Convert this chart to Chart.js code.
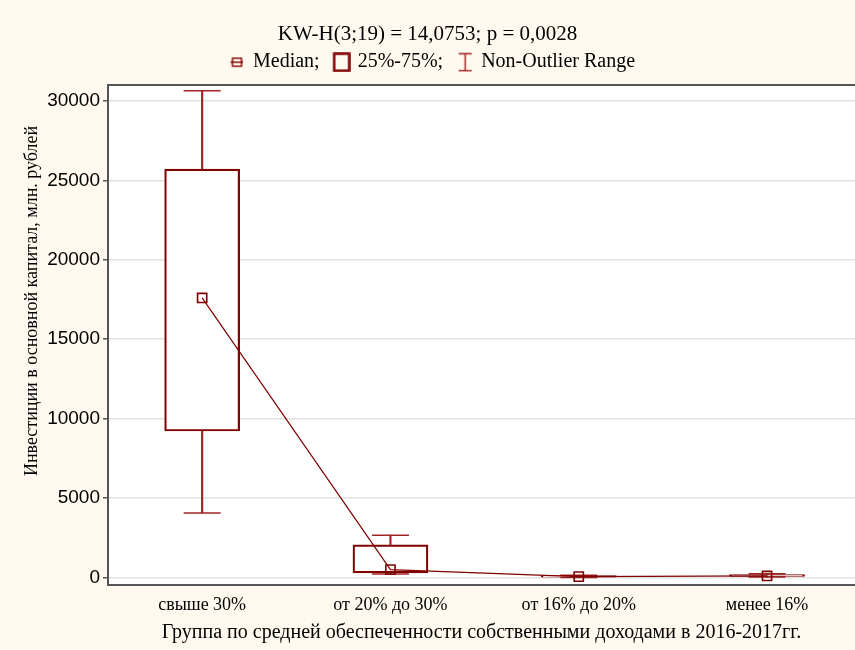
<!DOCTYPE html>
<html>
<head>
<meta charset="utf-8">
<script src="https://cdn.jsdelivr.net/npm/chart.js@4"></script>
<style>
  html, body { margin: 0; padding: 0; background: #fff9ef; }
  #wrap { width: 855px; height: 650px; position: relative; }
</style>
</head>
<body>
<div id="wrap"><canvas id="myChart"></canvas></div>
<script>
// Data
const categories = ['свыше 30%', 'от 20% до 30%', 'от 16% до 20%', 'менее 16%'];
const whiskerMin = [4060, 220, 0, 20];
const q1 = [9220, 283, 15, 60];
const medians = [17600, 490, 50, 90];
const q3 = [25720, 2046, 110, 180];
const whiskerMax = [30650, 2657, 140, 230];
const yTicks = [0, 5000, 10000, 15000, 20000, 25000, 30000];

const titleText = 'KW-H(3;19) = 14,0753; p = 0,0028';
const legendNames = ['Median;', '25%-75%;', 'Non-Outlier Range'];
const yTitle = 'Инвестиции в основной капитал, млн. рублей';
const xTitle = 'Группа по средней обеспеченности собственными доходами в 2016-2017гг.';

const boxColor = '#800000';
const whiskerColor = '#a02424';
const serif = 'Liberation Serif, Times New Roman, serif';
const sans = 'Liberation Sans, Arial, sans-serif';

// small icons for the legend (drawn shifted right inside their canvas)
const iconShift = 11;
function makeIcon(w, h, draw) {
    const c = document.createElement('canvas');
    c.width = w + iconShift;
    c.height = h;
    const g = c.getContext('2d');
    g.translate(iconShift, 0);
    draw(g);
    return c;
}
const medianIcon = makeIcon(13, 12, g => {
    g.strokeStyle = boxColor;
    g.lineWidth = 1.4;
    g.strokeRect(2, 2, 9, 8);
    g.beginPath();
    g.moveTo(0, 6);
    g.lineTo(13, 6);
    g.stroke();
});
const boxIcon = makeIcon(18, 20, g => {
    g.strokeStyle = boxColor;
    g.lineWidth = 2.5;
    g.strokeRect(1.5, 1.5, 15, 17);
});
const whiskerIcon = makeIcon(15, 20, g => {
    g.strokeStyle = whiskerColor;
    g.lineWidth = 1.5;
    g.beginPath();
    g.moveTo(1, 1.5); g.lineTo(14, 1.5);
    g.moveTo(7.5, 1.5); g.lineTo(7.5, 18.5);
    g.moveTo(1, 18.5); g.lineTo(14, 18.5);
    g.stroke();
});
const legendIcons = [medianIcon, boxIcon, whiskerIcon];

const plotBackground = {
    id: 'plotBackground',
    beforeDraw(chart) {
        const {ctx, chartArea} = chart;
        ctx.save();
        ctx.fillStyle = '#fff9ef';
        ctx.fillRect(0, 0, chart.width, chart.height);
        ctx.fillStyle = '#ffffff';
        ctx.fillRect(chartArea.left, chartArea.top, chartArea.right - chartArea.left, chartArea.bottom - chartArea.top);
        ctx.restore();
    }
};

// y axis title, placed a bit above the middle as in the original
const yAxisTitle = {
    id: 'yAxisTitle',
    afterDraw(chart) {
        const ctx = chart.ctx;
        ctx.save();
        ctx.translate(32, 301);
        ctx.rotate(-Math.PI / 2);
        ctx.font = '18px ' + serif;
        ctx.fillStyle = '#000';
        ctx.textAlign = 'center';
        ctx.textBaseline = 'middle';
        ctx.fillText(yTitle, 0, 0);
        ctx.restore();
    }
};

const xMin = -0.5;
const xMax = 3.467;

const noSidePadding = s => { s.paddingLeft = 0; s.paddingRight = 0; };

const ctx = document.getElementById('myChart').getContext('2d');
new Chart(ctx, {
    type: 'bar',
    data: {
        datasets: [
            {
                type: 'line',
                data: categories.map((c, i) => ({x: i, y: medians[i]})),
                borderColor: boxColor,
                borderWidth: 1.2,
                pointStyle: 'rect',
                pointRadius: 6.5,
                pointBackgroundColor: 'rgba(255,255,255,0)',
                pointBorderColor: boxColor,
                pointBorderWidth: 1.6,
                order: 0
            },
            {
                type: 'bar',
                data: categories.map((c, i) => ({x: i, y: [q1[i], q3[i]]})),
                backgroundColor: '#ffffff',
                borderColor: boxColor,
                borderWidth: 2.2,
                borderSkipped: false,
                barThickness: 75,
                grouped: false,
                order: 1
            },
            {
                type: 'scatter',
                data: categories.map((c, i) => ({x: i, y: whiskerMin[i]}))
                    .concat(categories.map((c, i) => ({x: i, y: whiskerMax[i]}))),
                pointStyle: 'line',
                pointRadius: 18.5,
                borderColor: whiskerColor,
                pointBorderWidth: 1.5,
                showLine: false,
                order: 2
            },
            {
                type: 'bar',
                data: categories.map((c, i) => ({x: i, y: [whiskerMin[i], whiskerMax[i]]})),
                backgroundColor: whiskerColor,
                borderWidth: 0,
                barThickness: 1.5,
                grouped: false,
                order: 3
            }
        ]
    },
    options: {
        responsive: true,
        maintainAspectRatio: false,
        animation: false,
        events: [],
        layout: { padding: 0, autoPadding: false },
        plugins: {
            tooltip: { enabled: false },
            title: {
                display: true,
                text: titleText,
                color: '#000',
                font: { family: serif, size: 21, weight: 'normal' },
                padding: { top: 22, bottom: 0 }
            },
            legend: {
                display: true,
                position: 'top',
                labels: {
                    usePointStyle: true,
                    pointStyleWidth: 23,
                    padding: 5,
                    color: '#000',
                    font: { family: serif, size: 20 },
                    generateLabels: () => legendNames.map((name, i) => ({
                        text: name,
                        pointStyle: legendIcons[i],
                        fillStyle: 'transparent',
                        strokeStyle: boxColor,
                        lineWidth: 0,
                        hidden: false,
                        datasetIndex: i
                    }))
                }
            }
        },
        scales: {
            x: {
                type: 'linear',
                position: 'bottom',
                min: xMin,
                max: xMax,
                offset: false,
                afterBuildTicks: s => { s.ticks = categories.map((c, i) => ({value: i})); },
                afterFit: s => { s.height = 65; noSidePadding(s); },
                ticks: {
                    autoSkip: false,
                    maxRotation: 0,
                    padding: 9,
                    color: '#000',
                    font: { family: serif, size: 18 },
                    callback: v => categories[v]
                },
                grid: { display: false, drawTicks: false, tickLength: 0 },
                border: { display: true, color: '#555', width: 2 },
                title: {
                    display: true,
                    text: xTitle,
                    color: '#000',
                    font: { family: serif, size: 20 },
                    padding: { top: 0, bottom: 5 }
                }
            },
            xTop: {
                type: 'linear',
                position: 'top',
                min: xMin,
                max: xMax,
                afterFit: s => { s.height = 3; noSidePadding(s); },
                ticks: { display: false },
                grid: { display: false, drawTicks: false, tickLength: 0 },
                border: { display: true, color: '#555', width: 2 }
            },
            y: {
                type: 'linear',
                min: -480,
                max: 31000,
                afterBuildTicks: s => { s.ticks = yTicks.map(v => ({value: v})); },
                afterFit: s => { s.width = 108; },
                ticks: {
                    padding: 3,
                    color: '#000',
                    font: { family: sans, size: 19 },
                    callback: v => String(v)
                },
                grid: {
                    color: '#e2e2e2',
                    lineWidth: 1.5,
                    tickLength: 5,
                    tickColor: '#555'
                },
                border: { display: true, color: '#555', width: 2 }
            }
        }
    },
    plugins: [plotBackground, yAxisTitle]
});
</script>
</body>
</html>
